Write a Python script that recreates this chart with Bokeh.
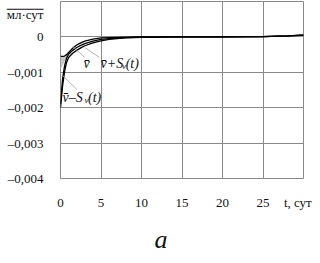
from bokeh.plotting import figure
from bokeh.models import Label, FixedTicker, CustomJSTickFormatter, Range1d, Title
from bokeh.embed import file_html
from bokeh.resources import INLINE

# time, days
t = [0, 0.25, 0.5, 0.75, 1, 1.5, 2, 2.5, 3, 4, 5, 6, 8, 10, 15, 20, 25, 28, 30]
# v - S_v(t)
v_lower = [-0.002, -0.0014, -0.00098, -0.00072, -0.00058, -0.00046, -0.00038, -0.00031, -0.00025,
           -0.00017, -0.00011, -0.00007, -0.00003, -0.00001, 0, 0, 0.00001, 0.00003, 0.00005]
# mean v
v_mean = [-0.0019, -0.0012, -0.00082, -0.0006, -0.00049, -0.00038, -0.0003, -0.00024, -0.00019,
          -0.00012, -0.00007, -0.00005, -0.00002, -0.000005, 0, 0, 0.00001, 0.00003, 0.00005]
# v + S_v(t)
v_upper = [-0.00055, -0.00055, -0.00054, -0.0005, -0.00044, -0.00032, -0.00023, -0.00017, -0.00012,
           -0.00006, -0.00003, -0.00002, -0.00001, 0, 0, 0, 0.00001, 0.00003, 0.00005]

# shaded zone near start
shade_t = [0, 0.6, 1.2]
shade_top = [-0.00055, -0.00053, -0.00043]
shade_bot = [-0.00093, -0.00066, -0.00043]

x_ticks = [0, 5, 10, 15, 20, 25]
x_grid = [0, 5, 10, 15, 20, 25, 30]
y_ticks = [0, -0.001, -0.002, -0.003, -0.004]
x_title = "t, сут"
x_title_pos = 29.3
y_unit_den = "мл·сут"
y_unit_pos = 0.000625
y_bar_pos = 0.0008

SERIF = "'Liberation Serif', 'Times New Roman', serif"

p = figure(width=320, height=263, x_range=Range1d(0, 30), y_range=Range1d(-0.004, 0.001),
           output_backend="svg", toolbar_location=None,
           min_border_left=60, min_border_right=17, min_border_top=1, min_border_bottom=10)
p.background_fill_color = "white"
p.border_fill_color = "white"
p.outline_line_color = "#8a8a8a"
p.outline_line_width = 1

p.xaxis.ticker = FixedTicker(ticks=x_ticks + [x_title_pos])
p.yaxis.ticker = FixedTicker(ticks=y_ticks + [y_bar_pos, y_unit_pos])
p.xgrid.ticker = FixedTicker(ticks=x_grid)
p.ygrid.ticker = FixedTicker(ticks=y_ticks)
for g in (p.xgrid, p.ygrid):
    g.grid_line_color = "#8a8a8a"
    g.grid_line_width = 1

p.xaxis.formatter = CustomJSTickFormatter(args=dict(pos=x_title_pos, title=x_title), code="""
    if (Math.abs(tick - pos) < 1e-6) return title;
    return tick.toFixed(0);
""")
p.yaxis.formatter = CustomJSTickFormatter(
    args=dict(upos=y_unit_pos, bpos=y_bar_pos, unit=y_unit_den), code="""
    if (Math.abs(tick - upos) < 1e-9) return unit;
    if (Math.abs(tick - bpos) < 1e-9) return "\\u2500\\u2500\\u2500\\u2500";
    if (Math.abs(tick) < 1e-9) return "0";
    return "\\u2013" + Math.abs(tick).toFixed(3).replace(".", ",");
""")
xa = p.xaxis[0]
ya = p.yaxis[0]
for ax in (xa, ya):
    ax.axis_line_color = None
    ax.major_tick_line_color = None
    ax.minor_tick_line_color = None
    ax.major_label_text_font_size = "13px"
    ax.major_label_text_color = "#111111"
xa.major_label_text_font = "serif"
ya.major_label_text_font = "serif"
ya.major_label_standoff = 11
xa.major_label_standoff = 10

# panel letter as a title below the axis
p.add_layout(Title(text="а", align="left", offset=94, text_font=SERIF, text_font_size="26px",
                   text_font_style="italic", text_color="#111111", standoff=20), "below")

# shading
p.varea(x=shade_t, y1=shade_bot, y2=shade_top, fill_color="#c8c8c8", fill_alpha=1)

# curves
for ys in (v_lower, v_mean, v_upper):
    p.line(t, ys, line_color="black", line_width=1.3)

# leader lines (label pointers)
lead_x = [[1.5, 3.0], [3.0, 4.8], [0.3, 2.0]]
lead_y = [[-0.00027, -0.00058], [-0.0003, -0.00058], [-0.0011, -0.00148]]
p.multi_line(lead_x, lead_y, line_color="#a0a0a0", line_width=0.8)

def lab(x, y, text, size="14px", style="italic", align="left", baseline="middle"):
    p.add_layout(Label(x=x, y=y, text=text, text_font=SERIF, text_font_size=size,
                       text_font_style=style, text_align=align, text_baseline=baseline,
                       text_color="#111111"))

# curve labels
lab(2.84, -0.00075, "v\u0304")
lab(4.94, -0.00075, "v\u0304+S")
lab(7.6, -0.00083, "v", size="9px")
lab(8.05, -0.00075, "(t)")
lab(0.25, -0.0017, "v\u0304\u2013S")
lab(2.95, -0.00178, "v", size="9px")
lab(3.4, -0.0017, "(t)")

html = file_html(p, INLINE)
html = html.replace("<body>", '<body style="margin:0">', 1)
open("out.html", "w").write(html)
